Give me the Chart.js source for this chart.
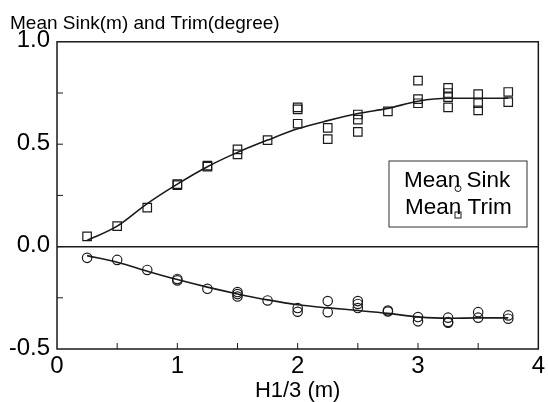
<!DOCTYPE html>
<html>
<head>
<meta charset="utf-8">
<script src="https://cdn.jsdelivr.net/npm/chart.js@4/dist/chart.umd.min.js"></script>
<style>
  html, body { margin: 0; padding: 0; background: #fff; }
  #wrap { width: 548px; height: 402px; }
</style>
</head>
<body>
<div id="wrap"><canvas id="chart"></canvas></div>
<script>
const $ = (id) => document.getElementById(id);

// fitted curves (H1/3 in m)
const fitX = [0.25, 0.5, 0.75, 1.0, 1.25, 1.5, 1.75, 2.0, 2.25, 2.5, 2.75, 3.0, 3.25, 3.5, 3.75];
const trimFit = [0.03, 0.10, 0.21, 0.305, 0.39, 0.46, 0.52, 0.575, 0.615, 0.65, 0.675, 0.71, 0.724, 0.724, 0.724];
const sinkFit = [-0.044, -0.076, -0.12, -0.161, -0.198, -0.231, -0.26, -0.284, -0.299, -0.312, -0.326, -0.343, -0.35, -0.348, -0.348];

// measured trim (degree)
const trimX = [0.25, 0.5, 0.75, 1.0, 1.0, 1.25, 1.25, 1.5, 1.5, 1.75, 2.0, 2.0, 2.0, 2.25, 2.25,
  2.5, 2.5, 2.5, 2.75, 3.0, 3.0, 3.0, 3.25, 3.25, 3.25, 3.25, 3.5, 3.5, 3.5, 3.75, 3.75];
const trimY = [0.05, 0.10, 0.19, 0.30, 0.305, 0.39, 0.395, 0.475, 0.45, 0.52, 0.68, 0.67, 0.60, 0.58, 0.525,
  0.645, 0.62, 0.56, 0.66, 0.81, 0.72, 0.70, 0.775, 0.75, 0.73, 0.68, 0.745, 0.70, 0.665, 0.755, 0.705];

// measured sink (m)
const sinkX = [0.25, 0.5, 0.75, 1.0, 1.0, 1.25, 1.5, 1.5, 1.5, 1.75, 2.0, 2.0, 2.25, 2.25,
  2.5, 2.5, 2.5, 2.75, 2.75, 3.0, 3.0, 3.25, 3.25, 3.25, 3.5, 3.5, 3.75, 3.75];
const sinkY = [-0.055, -0.065, -0.114, -0.158, -0.165, -0.206, -0.222, -0.232, -0.244, -0.263, -0.30, -0.318, -0.266, -0.32,
  -0.266, -0.28, -0.30, -0.317, -0.312, -0.344, -0.365, -0.347, -0.368, -0.372, -0.32, -0.347, -0.336, -0.352];

const xTicks = [0, 1, 2, 3, 4];
const yTicks = [-0.5, 0.0, 0.5, 1.0];

const FONT = "'Liberation Sans', Arial, Helvetica, sans-serif";
const INK = "#1a1a1a";

const pts = (xs, ys) => xs.map((x, i) => ({ x, y: ys[i] }));

// frame, inward ticks and the boxed legend
const framePlugin = {
  id: "frame",
  afterDraw(chart) {
    const { ctx, chartArea: a, scales } = chart;
    ctx.save();
    ctx.strokeStyle = INK;
    ctx.lineWidth = 1.5;
    ctx.strokeRect(a.left, a.top, a.right - a.left, a.bottom - a.top);

    ctx.lineWidth = 1;
    ctx.beginPath();
    scales.x.ticks.forEach(t => {
      if (t.value <= scales.x.min || t.value >= scales.x.max) return;
      const px = scales.x.getPixelForValue(t.value);
      ctx.moveTo(px, a.bottom);
      ctx.lineTo(px, a.bottom - 6);
    });
    scales.y.ticks.forEach(t => {
      if (t.value <= scales.y.min || t.value >= scales.y.max) return;
      const py = scales.y.getPixelForValue(t.value);
      ctx.moveTo(a.left, py);
      ctx.lineTo(a.left + 6, py);
    });
    ctx.stroke();

    // legend box
    const bx = 389, by = 161, bw = 138, bh = 66;
    ctx.lineWidth = 1;
    ctx.strokeStyle = "#333";
    ctx.strokeRect(bx, by, bw, bh);
    ctx.fillStyle = "#000";
    ctx.font = `22.5px ${FONT}`;
    ctx.textBaseline = "alphabetic";
    ctx.fillText("Mean Sink", 404, 187);
    ctx.fillText("Mean Trim", 405, 214);
    ctx.strokeStyle = INK;
    ctx.beginPath();
    ctx.arc(458, 188.5, 3, 0, Math.PI * 2);
    ctx.stroke();
    ctx.strokeRect(455, 212, 6, 6);
    ctx.restore();
  }
};

new Chart($("chart"), {
  type: "scatter",
  data: {
    datasets: [
      { label: "Trim fit", data: pts(fitX, trimFit), showLine: true, pointRadius: 0,
        borderColor: INK, borderWidth: 1.6, cubicInterpolationMode: "monotone" },
      { label: "Sink fit", data: pts(fitX, sinkFit), showLine: true, pointRadius: 0,
        borderColor: INK, borderWidth: 1.6, cubicInterpolationMode: "monotone" },
      { label: "Mean Trim", data: pts(trimX, trimY), pointStyle: "rect", pointRadius: 6,
        borderColor: INK, borderWidth: 1.2, backgroundColor: "rgba(0,0,0,0)" },
      { label: "Mean Sink", data: pts(sinkX, sinkY), pointStyle: "circle", pointRadius: 4.7,
        borderColor: INK, borderWidth: 1.2, backgroundColor: "rgba(0,0,0,0)" }
    ]
  },
  options: {
    responsive: true,
    maintainAspectRatio: false,
    animation: false,
    layout: { padding: { left: 10, right: 8, top: 0, bottom: 0 } },
    plugins: {
      legend: { display: false },
      tooltip: { enabled: false },
      title: {
        display: true,
        text: "Mean Sink(m) and Trim(degree)",
        align: "start",
        color: "#000",
        font: { family: FONT, size: 19, weight: "normal" },
        padding: { top: 12, bottom: 7 }
      }
    },
    scales: {
      x: {
        type: "linear", min: 0, max: 4,
        afterFit: (s) => { s.height = 53; },
        ticks: {
          stepSize: 0.5, padding: 3, color: "#000",
          font: { family: FONT, size: 24 },
          callback: (v) => xTicks.includes(v) ? String(v) : ""
        },
        grid: { drawOnChartArea: false, drawTicks: false },
        border: { display: false },
        title: {
          display: true, text: "H1/3 (m)", color: "#000",
          font: { family: FONT, size: 22, lineHeight: 1.05 }, padding: { top: 0, bottom: 0 }
        }
      },
      y: {
        type: "linear", min: -0.5, max: 1.0,
        afterFit: (s) => { s.width = 47; },
        ticks: {
          stepSize: 0.25, padding: 7, color: "#000", labelOffset: -1,
          font: { family: FONT, size: 24 },
          callback: (v) => yTicks.includes(v) ? v.toFixed(1) : ""
        },
        grid: {
          drawTicks: false,
          color: (c) => c.tick && c.tick.value === 0 ? INK : "rgba(0,0,0,0)",
          lineWidth: 1.5
        },
        border: { display: false }
      }
    }
  },
  plugins: [framePlugin]
});
</script>
</body>
</html>
